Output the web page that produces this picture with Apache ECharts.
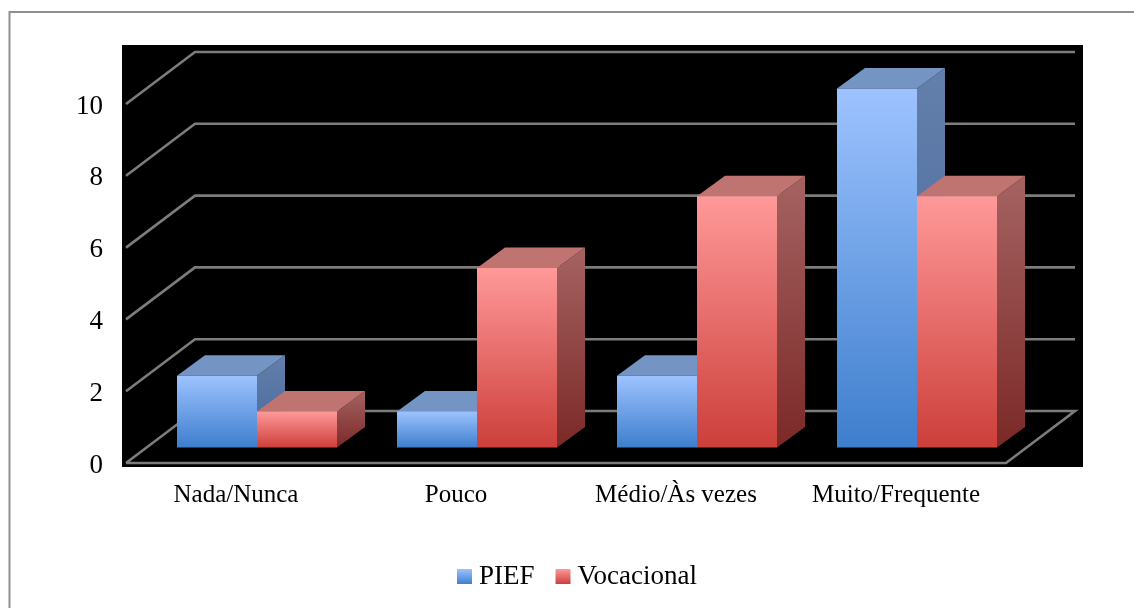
<!DOCTYPE html>
<html><head><meta charset="utf-8">
<style>html,body{margin:0;padding:0;background:#fff}#c{width:1134px;height:608px}</style>
<script src="https://cdn.jsdelivr.net/npm/echarts@6/dist/echarts.min.js"></script>
</head><body><div id="c"></div>
<script>
const categories = ['Nada/Nunca', 'Pouco', 'Médio/Às vezes', 'Muito/Frequente'];
const seriesNames = ['PIEF', 'Vocacional'];
const piefValues = [2, 1, 2, 10];
const vocacionalValues = [1, 5, 7, 7];
const yTicks = [0, 2, 4, 6, 8, 10];

const FONT = '"Liberation Serif", serif';
const WALL_DX = 69, WALL_DY = -52;     // depth of the chart box
const PLANE_DX = 21, PLANE_DY = -15.5; // where bars stand within the box
const BAR_DX = 28, BAR_DY = -20.5;     // bar depth
const BAR_FRACTION = 80 / 220;

const grad = (a, b) => new echarts.graphic.LinearGradient(0, 0, 0, 1, [
  { offset: 0, color: a }, { offset: 1, color: b }]);

const palette = [
  { front: ['#9DC3FF', '#3E7ECD'], top: '#7494C3', side: ['#637FAB', '#47689A'] },
  { front: ['#FF9999', '#CC3F3A'], top: '#C07472', side: ['#A56362', '#7B2927'] }
];

function barRenderer(seriesIndex) {
  return function (params, api) {
    const cat = api.value(0), val = api.value(1);
    const band = api.size([1, 0])[0];
    const w = band * BAR_FRACTION;
    const c0 = api.coord([cat, 0]);
    const cv = api.coord([cat, val]);
    const xL = c0[0] + PLANE_DX + (seriesIndex === 0 ? -w : 0);
    const xR = xL + w;
    const yB = c0[1] + PLANE_DY;
    const yT = cv[1] + PLANE_DY;
    const p = palette[seriesIndex];
    const poly = (pts, fill) => ({ type: 'polygon', shape: { points: pts },
      style: { fill: fill, stroke: null } });
    return { type: 'group', children: [
      poly([[xR, yB], [xR + BAR_DX, yB + BAR_DY], [xR + BAR_DX, yT + BAR_DY], [xR, yT]], grad(p.side[0], p.side[1])),
      poly([[xL, yT], [xR, yT], [xR + BAR_DX, yT + BAR_DY], [xL + BAR_DX, yT + BAR_DY]], p.top),
      { type: 'rect', shape: { x: xL, y: yT, width: w, height: yB - yT }, style: { fill: grad(p.front[0], p.front[1]) } }
    ] };
  };
}

function wallRenderer(params, api) {
  const v = api.value(0);
  const cL = api.coord([0, v]);
  const band = api.size([1, 0])[0];
  const xL = cL[0] - band / 2;
  const xR = xL + band * categories.length;
  const y = cL[1];
  const pts = [[xL, y], [xL + WALL_DX, y + WALL_DY], [xR + WALL_DX, y + WALL_DY]];
  if (v === 0) pts.push([xR, y], [xL, y]);
  return { type: 'polyline', shape: { points: pts },
    style: { fill: null, stroke: '#7c7c7c', lineWidth: 2.6, lineJoin: 'miter' } };
}

const chart = echarts.init(document.getElementById('c'), null, { renderer: 'canvas' });
chart.setOption({
  animation: false,
  backgroundColor: '#fff',
  graphic: [
    { type: 'rect', z: -10, silent: true, shape: { x: 9.5, y: 12, width: 1300, height: 800 },
      style: { fill: '#fff', stroke: '#8f8f8f', lineWidth: 2 } },
    { type: 'rect', z: -9, silent: true, shape: { x: 122, y: 45, width: 961, height: 422 },
      style: { fill: '#000' } }
  ],
  grid: { left: 126, right: 128, top: 104, bottom: 145 },
  legend: {
    data: seriesNames, left: 457, top: 563, padding: 0, icon: 'rect', itemWidth: 15, itemHeight: 15,
    itemGap: 21,
    textStyle: { fontFamily: FONT, fontSize: 27, color: '#000', padding: [3, 0, 0, 2] }
  },
  xAxis: {
    type: 'category', data: categories, boundaryGap: true,
    axisLine: { show: false }, axisTick: { show: false }, splitLine: { show: false },
    axisLabel: { fontFamily: FONT, fontSize: 25, color: '#000', margin: 20, interval: 0 }
  },
  yAxis: {
    type: 'value', min: 0, max: 10, interval: 2,
    axisLine: { show: false }, axisTick: { show: false }, splitLine: { show: false },
    axisLabel: {
      margin: 23,
      formatter: v => '{s| }\n{a|' + v + '}',
      rich: {
        s: { fontFamily: FONT, fontSize: 4, lineHeight: 5 },
        a: { fontFamily: FONT, fontSize: 27, lineHeight: 27, color: '#000' }
      }
    }
  },
  series: [
    { type: 'custom', name: '_wall', renderItem: wallRenderer, data: yTicks.map(v => [v]), encode: { y: 0 }, z: 1, silent: true },
    { type: 'custom', name: seriesNames[0], renderItem: barRenderer(0), z: 2,
      itemStyle: { color: grad(palette[0].front[0], palette[0].front[1]) },
      data: piefValues.map((v, i) => [i, v]), encode: { x: 0, y: 1 } },
    { type: 'custom', name: seriesNames[1], renderItem: barRenderer(1), z: 3,
      itemStyle: { color: grad(palette[1].front[0], palette[1].front[1]) },
      data: vocacionalValues.map((v, i) => [i, v]), encode: { x: 0, y: 1 } }
  ]
});
</script></body></html>
